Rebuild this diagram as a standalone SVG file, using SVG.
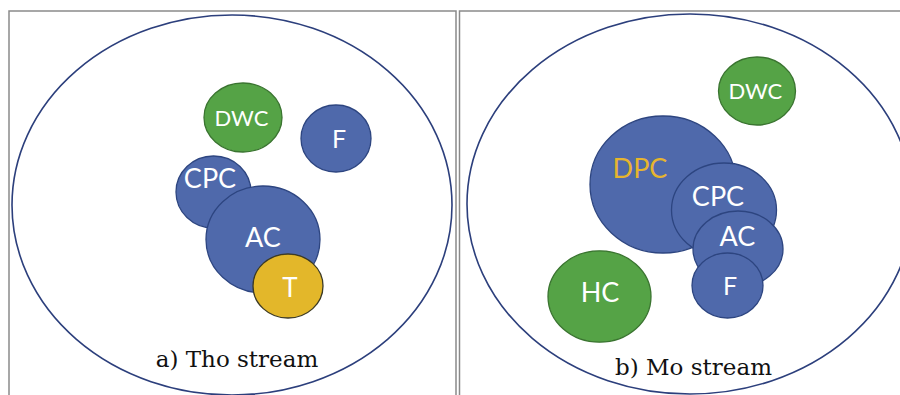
<svg xmlns="http://www.w3.org/2000/svg" width="900" height="395" viewBox="0 0 900 395">
<style>
.frame{fill:none;stroke:#8a8a8a;stroke-width:1.5}
.outer{fill:none;stroke:#2c3f7c;stroke-width:1.6}
.blue{fill:#4f69ab;stroke:#2d4580;stroke-width:1.3}
.green{fill:#55a346;stroke:#3a7430;stroke-width:1.3}
.gold{fill:#e3b72a;stroke:#3c3a24;stroke-width:1.3}
.lbl{font-family:Lato,"Open Sans",sans-serif;fill:#ffffff;text-anchor:middle}
.cap{font-family:"DejaVu Serif","Liberation Serif",serif;font-size:23px;fill:#111;text-anchor:middle}
</style>
<rect width="900" height="395" fill="#ffffff"/>
<g id="frames">
<path class="frame" d="M9,396 V11 H456 V396"/>
<path class="frame" d="M459.5,396 V11 H901"/>
</g>
<g id="panel-a">
<ellipse id="a-outer" class="outer" cx="232" cy="205" rx="220" ry="190"/>
<g id="a-DWC"><ellipse class="green" cx="243" cy="117.5" rx="39" ry="34.5"/><text class="lbl" x="241.5" y="126" font-size="22">DWC</text></g>
<g id="a-F"><ellipse class="blue" cx="336" cy="138.5" rx="35" ry="33.5"/><text class="lbl" x="339" y="148" font-size="25">F</text></g>
<g id="a-CPC"><ellipse class="blue" cx="213.5" cy="192" rx="37.5" ry="36"/><text class="lbl" x="210" y="188" font-size="27">CPC</text></g>
<g id="a-AC"><ellipse class="blue" cx="263" cy="239.5" rx="57" ry="53.5"/><text class="lbl" x="263" y="246.5" font-size="27">AC</text></g>
<g id="a-T"><ellipse class="gold" cx="288" cy="286" rx="35" ry="32"/><text class="lbl" x="290" y="296.5" font-size="26">T</text></g>
<text class="cap" x="237" y="367">a) Tho stream</text>
</g>
<g id="panel-b">
<ellipse id="b-outer" class="outer" cx="690" cy="204" rx="223" ry="190"/>
<g id="b-DWC"><ellipse class="green" cx="757" cy="91" rx="38.5" ry="34"/><text class="lbl" x="755.3" y="99.3" font-size="22">DWC</text></g>
<g id="b-DPC"><ellipse class="blue" cx="663" cy="184.5" rx="73" ry="68.5"/><text class="lbl" x="640" y="178" font-size="27" style="fill:#e6b52e">DPC</text></g>
<g id="b-CPC"><ellipse class="blue" cx="724" cy="210" rx="52.5" ry="47"/><text class="lbl" x="718" y="205.7" font-size="27">CPC</text></g>
<g id="b-AC"><ellipse class="blue" cx="738" cy="249" rx="45" ry="38"/><text class="lbl" x="737.3" y="245.7" font-size="27">AC</text></g>
<g id="b-F"><ellipse class="blue" cx="727.5" cy="285.5" rx="35.5" ry="32.5"/><text class="lbl" x="730" y="295" font-size="25">F</text></g>
<g id="b-HC"><ellipse class="green" cx="599.5" cy="296.5" rx="51.5" ry="45.7"/><text class="lbl" x="600" y="302" font-size="27">HC</text></g>
<text class="cap" x="693.5" y="375">b) Mo stream</text>
</g>
<g id="connectors"/>
</svg>
